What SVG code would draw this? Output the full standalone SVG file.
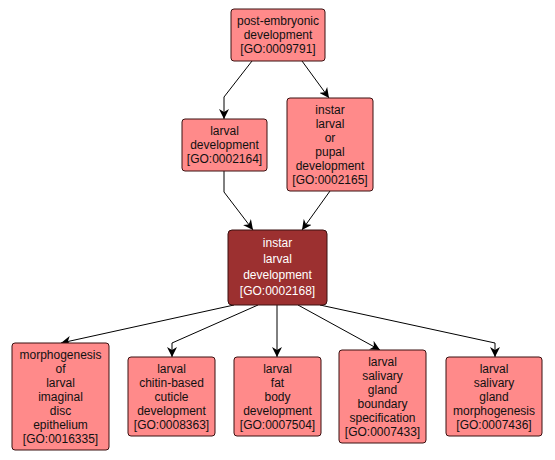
<svg xmlns="http://www.w3.org/2000/svg" width="555" height="460" viewBox="0 0 555 460">
<style>
.n rect{fill:#ff8a8a;stroke:#3a1010;stroke-width:1}
.n text{font-family:"Liberation Sans",Arial,sans-serif;font-size:12px;fill:#111;text-anchor:middle}
#n0002168 rect{fill:#9c3030}
#n0002168 text{fill:#fff}
.e{fill:none;stroke:#000;stroke-width:1}
</style>
<defs>
<marker id="ah" viewBox="0 0 10 10" refX="10" refY="5" markerWidth="10" markerHeight="10" markerUnits="userSpaceOnUse" orient="auto">
<path d="M0,0 L10,5 L0,10 L3,5 Z" fill="#000"/>
</marker>
</defs>
<rect width="555" height="460" fill="#fff"/>
<g id="edges">
<path class="e" marker-end="url(#ah)" d="M252,61 L224,97 L224,119"/>
<path class="e" marker-end="url(#ah)" d="M302,61 L329,98"/>
<path class="e" marker-end="url(#ah)" d="M224,171 L224,192 L253,230"/>
<path class="e" marker-end="url(#ah)" d="M330,191 L302,230"/>
<path class="e" marker-end="url(#ah)" d="M234,305 L61,343"/>
<path class="e" marker-end="url(#ah)" d="M258,305 L172,343 L172,357"/>
<path class="e" marker-end="url(#ah)" d="M277,305 L277,357"/>
<path class="e" marker-end="url(#ah)" d="M298,305 L380,350"/>
<path class="e" marker-end="url(#ah)" d="M320,305 L495,343 L495,357"/>
</g>
<g id="n0009791" class="n"><rect x="231" y="9" width="94" height="52" rx="3"/>
<text x="278" y="25">post-embryonic</text><text x="278" y="39">development</text><text x="278" y="53">[GO:0009791]</text></g>
<g id="n0002164" class="n"><rect x="182" y="119" width="85" height="52" rx="3"/>
<text x="224.5" y="135">larval</text><text x="224.5" y="149">development</text><text x="224.5" y="163">[GO:0002164]</text></g>
<g id="n0002165" class="n"><rect x="287" y="98" width="86" height="93" rx="3"/>
<text x="330" y="114">instar</text><text x="330" y="128">larval</text><text x="330" y="142">or</text><text x="330" y="156">pupal</text><text x="330" y="170">development</text><text x="330" y="184">[GO:0002165]</text></g>
<g id="n0002168" class="n"><rect x="228" y="230" width="99" height="75" rx="4"/>
<text x="277.5" y="247">instar</text><text x="277.5" y="263">larval</text><text x="277.5" y="279">development</text><text x="277.5" y="295">[GO:0002168]</text></g>
<g id="n0016335" class="n"><rect x="12" y="343" width="97" height="107" rx="3"/>
<text x="60.5" y="359">morphogenesis</text><text x="60.5" y="373">of</text><text x="60.5" y="387">larval</text><text x="60.5" y="401">imaginal</text><text x="60.5" y="415">disc</text><text x="60.5" y="429">epithelium</text><text x="60.5" y="443">[GO:0016335]</text></g>
<g id="n0008363" class="n"><rect x="128" y="357" width="87" height="79" rx="3"/>
<text x="171.5" y="373">larval</text><text x="171.5" y="387">chitin-based</text><text x="171.5" y="401">cuticle</text><text x="171.5" y="415">development</text><text x="171.5" y="429">[GO:0008363]</text></g>
<g id="n0007504" class="n"><rect x="234" y="357" width="87" height="79" rx="3"/>
<text x="277.5" y="373">larval</text><text x="277.5" y="387">fat</text><text x="277.5" y="401">body</text><text x="277.5" y="415">development</text><text x="277.5" y="429">[GO:0007504]</text></g>
<g id="n0007433" class="n"><rect x="339" y="350" width="87" height="93" rx="3"/>
<text x="382.5" y="366">larval</text><text x="382.5" y="380">salivary</text><text x="382.5" y="394">gland</text><text x="382.5" y="408">boundary</text><text x="382.5" y="422">specification</text><text x="382.5" y="436">[GO:0007433]</text></g>
<g id="n0007436" class="n"><rect x="446" y="357" width="96" height="79" rx="3"/>
<text x="494" y="373">larval</text><text x="494" y="387">salivary</text><text x="494" y="401">gland</text><text x="494" y="415">morphogenesis</text><text x="494" y="429">[GO:0007436]</text></g>
</svg>
